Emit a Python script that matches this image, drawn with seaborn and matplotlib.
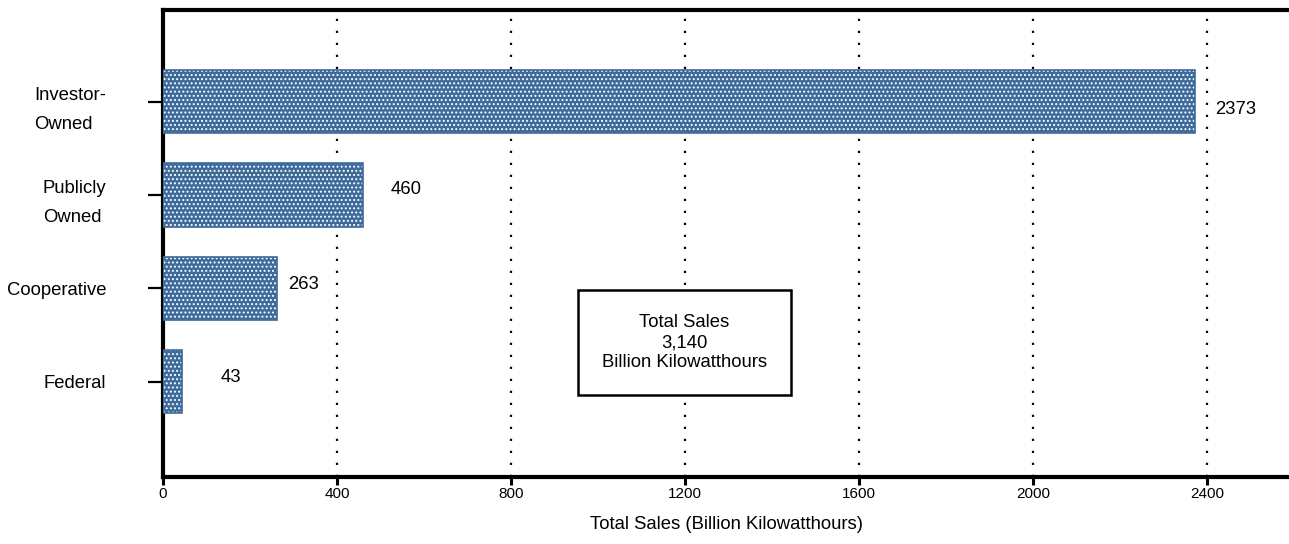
import matplotlib
matplotlib.use("Agg")
import matplotlib.pyplot as plt
import seaborn as sns
import pandas as pd

# ---- data ----
categories = ["Investor-\nOwned", "Publicly\nOwned", "Cooperative", "Federal"]
sales = [2373, 460, 263, 43]
x_ticks = [0, 400, 800, 1200, 1600, 2000, 2400]
x_label = "Total Sales (Billion Kilowatthours)"
box_text = "Total Sales\n3,140\nBillion Kilowatthours"

# label offsets (pixels, +dy = downwards) for the value annotations
label_dx = [20, 27, 11, 39]
label_dy = [8, -5, -4, -4]

sns.set_theme(style="white")
plt.rcParams["font.family"] = ["Liberation Sans", "DejaVu Sans"]
plt.rcParams["hatch.linewidth"] = 0.9
for k in ["text.color", "axes.labelcolor", "xtick.color", "ytick.color"]:
    plt.rcParams[k] = "black"

df = pd.DataFrame({"category": categories, "sales": sales})

fig = plt.figure(figsize=(12.89, 5.44), dpi=100)
ax = fig.add_axes([163 / 1289, 1 - 477 / 544, 1 - 163 / 1289, (477 - 10) / 544])

blue = "#3d6b9b"
sns.barplot(data=df, y="category", x="sales", orient="h", ax=ax,
            color=blue, width=0.68, saturation=1, hatch="....",
            edgecolor="white", linewidth=0, zorder=3)
sns.barplot(data=df, y="category", x="sales", orient="h", ax=ax,
            fill=False, width=0.68, edgecolor=blue, linewidth=1.2, zorder=4)

ax.set_xlim(0, 2588)
ax.set_ylim(len(categories) - 1 + 1.02, -0.98)
ax.set_xticks(x_ticks)
ax.set_xticklabels([str(t) for t in x_ticks], fontsize=11)
ax.set_xlabel(x_label, fontsize=13.3, labelpad=11)
ax.set_ylabel("")

for lab in ax.get_yticklabels():
    lab.set_fontsize(13.3)
    lab.set_horizontalalignment("right")
    lab.set_multialignment("left")
    lab.set_linespacing(1.95)

ax.tick_params(axis="y", left=True, length=10.8, width=1.6, pad=30, color="black")
ax.tick_params(axis="x", bottom=True, length=6, width=2.2, pad=1, color="black")

# vertical dotted grid
for t in x_ticks[1:]:
    ax.axvline(t, color="black", linewidth=1.6, linestyle=(0, (1, 4.4)), zorder=1)

for side in ["top", "left", "bottom"]:
    ax.spines[side].set_visible(True)
    ax.spines[side].set_linewidth(3)
    ax.spines[side].set_color("black")
ax.spines["right"].set_visible(False)

# value labels
for i, v in enumerate(sales):
    ax.annotate(str(v), xy=(v, i), xytext=(label_dx[i] * 0.72, -label_dy[i] * 0.72),
                textcoords="offset points", ha="left", va="center", fontsize=13.3)

ax.text(1198, 2.58, box_text, ha="center", va="center", fontsize=13.3,
        linespacing=1.2, zorder=6,
        bbox=dict(boxstyle="square,pad=1.3", facecolor="white", edgecolor="black", linewidth=1.8))

fig.savefig("out.png", dpi=100)
